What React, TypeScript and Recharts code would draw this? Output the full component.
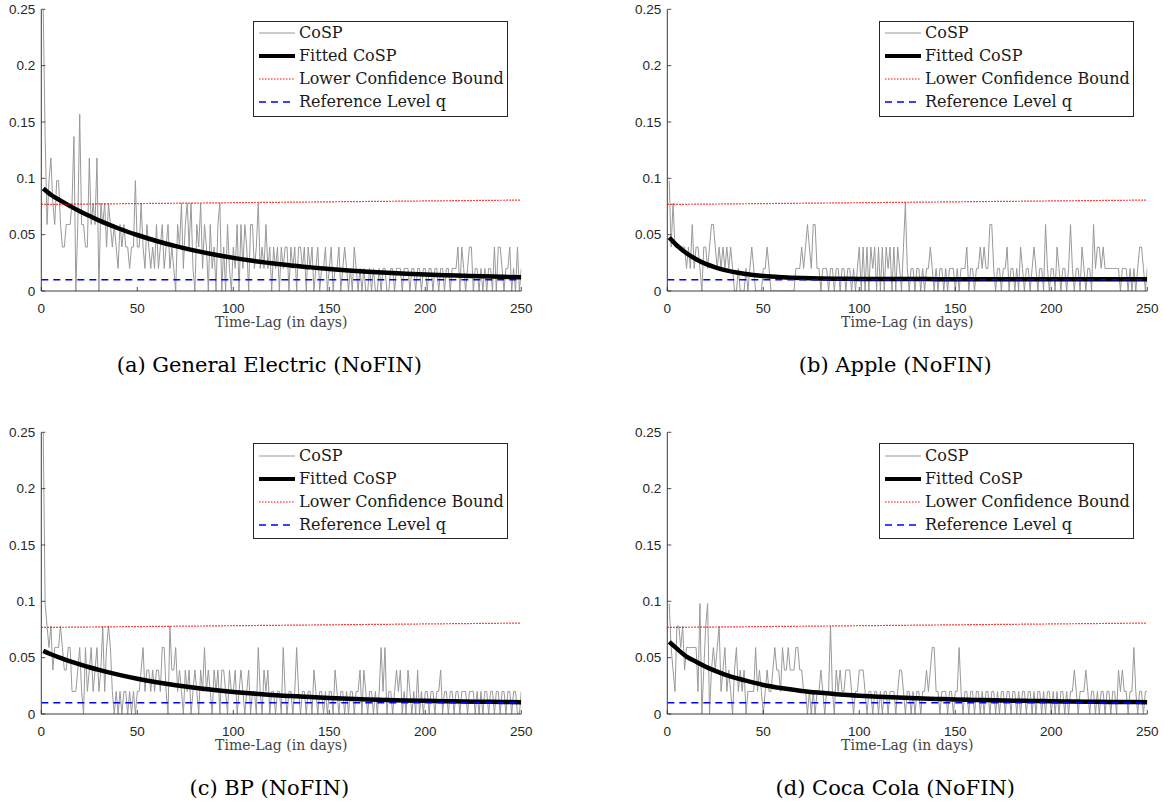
import { LineChart, Line, XAxis, YAxis, Legend } from 'recharts';

// lag in days for each CoSP value
const days = Array.from({ length: 250 }, (_, i) => i + 1);

const geCosp = [
  .25, .137, .059, .098, .118, .078, .059, .098, .098, .059,
  .039, .039, .059, .059, .059, .078, .137, 0, .059, .157,
  .059, .059, .039, .039, .118, .059, .078, .059, .118, 0,
  .078, .059, .078, .039, .078, .059, .039, .059, .039, .02,
  .059, .039, .059, .039, .039, .02, .039, .039, .098, .039,
  .039, .078, .039, .02, .059, .039, .02, .039, .02, .059,
  .02, .039, .059, .02, .039, .059, .02, .039, .02, 0,
  .059, .039, .078, .02, .059, .078, .039, .078, .02, 0,
  .059, .039, .078, .02, .059, .039, 0, .059, .02, .039,
  0, .059, .078, 0, .039, 0, .059, .02, 0, .039,
  .02, .059, 0, .059, .02, .059, .039, 0, .059, .059,
  .02, .039, .078, .02, .039, .02, .059, .02, .039, 0,
  .039, .02, .039, 0, .039, .02, .039, .039, 0, .039,
  .02, .039, 0, .039, .039, .02, .039, 0, .039, .02,
  .039, 0, .02, .039, 0, .02, .02, .039, 0, .02,
  .039, 0, .02, .02, .039, 0, .02, .039, .02, 0,
  .02, 0, .039, .02, 0, .02, 0, .02, 0, 0,
  .02, 0, .02, 0, 0, .02, 0, .02, .02, 0,
  0, .02, .02, 0, .02, .02, .02, 0, .02, .02,
  .02, 0, .02, .02, 0, .02, .02, 0, .02, .02,
  0, .02, .02, 0, .02, .02, 0, .02, .02, 0,
  .02, .02, 0, .02, .02, .02, .039, 0, .039, .02,
  0, .02, .039, .039, 0, .02, .02, 0, .02, 0,
  .02, 0, .02, .02, 0, .039, 0, .039, .039, .02,
  0, .02, .02, .039, 0, .02, 0, .039, 0, .02,
];

const appleCosp = [
  .098, .039, .078, .039, .039, .039, .039, .039, .039, .02,
  .039, .02, .059, .02, .039, .039, .02, 0, .039, .039,
  .02, .039, .059, .059, .039, .02, .039, .02, .039, .02,
  .039, .02, .039, .02, 0, 0, .02, 0, 0, 0,
  .02, 0, .02, .039, .02, 0, 0, 0, 0, .02,
  .02, .039, .02, 0, 0, 0, 0, 0, 0, 0,
  0, 0, 0, 0, 0, 0, .02, .02, .02, .039,
  .02, .039, .059, .039, .02, .059, .059, .02, .02, 0,
  .02, .02, .02, 0, .02, .02, 0, .02, .02, 0,
  .02, .02, 0, .02, .02, 0, .02, 0, .02, .039,
  0, .039, 0, .039, 0, .039, .02, .039, 0, .039,
  0, .039, 0, .039, .02, .039, 0, .039, 0, .039,
  .02, 0, .039, .078, .02, 0, .02, .02, 0, .02,
  .02, 0, .02, 0, .02, .02, .039, .02, 0, .02,
  0, .02, .02, 0, .02, 0, .02, .02, .02, 0,
  .02, 0, .02, .02, .02, .039, 0, .02, .02, 0,
  .02, .02, .039, .02, .039, .02, .02, .059, .059, .02,
  0, .02, .02, 0, .02, .02, .039, 0, .02, .02,
  0, .02, 0, .039, .02, 0, .02, .02, 0, .02,
  .039, .02, 0, .02, .02, 0, .059, .02, 0, .02,
  .02, 0, .039, .02, 0, .02, .02, 0, .02, .059,
  .02, 0, .02, .02, 0, .039, .02, 0, .02, .02,
  0, .059, .02, .039, .039, .02, .039, .02, .02, .02,
  .02, .02, .02, .02, .02, 0, .02, .02, .02, 0,
  .02, 0, .02, 0, .02, .039, .039, .02, 0, .02,
];

const bpCosp = [
  .25, .098, .078, .059, .078, .039, .059, .059, .059, .078,
  .059, .039, .039, .059, .059, .02, .02, .02, .039, .059,
  .02, 0, .059, .02, .039, .059, .02, .039, .059, .02,
  .039, .078, .02, .059, .078, .059, .02, 0, .02, 0,
  .02, 0, .02, .02, 0, .02, 0, .02, 0, .02,
  .02, .039, .059, .02, .039, .039, .02, .039, .02, .039,
  .039, .02, .059, .059, .02, 0, .078, .039, .039, .059,
  .02, .039, .02, 0, .039, .02, .039, 0, .02, .039,
  .02, 0, .039, .02, .059, .02, .039, .02, 0, .039,
  .02, .039, 0, .039, .039, .02, 0, .039, .02, .02,
  .039, 0, .02, .039, .02, 0, .02, .039, 0, .02,
  .02, 0, .059, .02, 0, .039, .02, .039, 0, .02,
  .02, 0, .02, .02, 0, .059, .02, 0, .02, .02,
  0, .02, .059, .02, 0, .02, .02, 0, .02, .02,
  0, .039, .02, 0, .02, .02, 0, .02, 0, .02,
  .02, 0, .039, .02, 0, .02, .02, 0, .02, 0,
  .02, .02, 0, .02, .02, .039, 0, .039, .02, 0,
  .02, .02, 0, .02, 0, .02, .059, .02, .059, 0,
  .02, .02, 0, .02, .039, .02, .039, 0, .02, 0,
  .039, .02, 0, .02, 0, .039, 0, .02, 0, .02,
  .02, 0, .02, .02, 0, .02, .02, .039, 0, .02,
  .02, 0, .02, .02, 0, .02, .02, 0, .02, .02,
  .02, 0, .02, .02, .02, 0, .02, 0, .02, 0,
  .02, .02, 0, .02, .02, 0, .02, .02, 0, .02,
  .02, 0, .02, .02, 0, .02, .02, 0, 0, .02,
];

const cokeCosp = [
  .098, .059, .039, .02, .078, .078, .059, .078, .039, .059,
  .059, .059, .059, .059, .059, .02, .098, 0, .039, .078,
  .098, 0, .039, .059, .039, .059, .078, .02, .039, .059,
  .02, .039, .02, 0, .039, .059, .02, .039, .02, .039,
  0, .02, .02, .02, .02, .059, .02, .039, .02, 0,
  .02, .039, .02, .02, .039, .059, .039, .039, .02, .059,
  .039, .039, .059, .039, .039, .039, .059, .059, .039, .039,
  .02, .02, 0, .02, 0, .02, 0, .02, .02, .039,
  .02, 0, .02, .02, .078, .02, 0, .039, .02, .039,
  .02, .02, .039, .039, .039, .02, 0, .02, .02, .039,
  .039, .039, .02, 0, .02, .02, 0, .02, .02, 0,
  .02, 0, .02, .02, 0, .02, .02, .02, 0, .02,
  .039, .039, .02, 0, .02, .02, 0, .02, 0, .02,
  .02, 0, .02, .02, .039, .02, .039, .059, .059, .02,
  .02, 0, .02, .02, .02, 0, .02, .02, 0, .02,
  .02, .059, .02, 0, .02, .02, 0, .02, .02, 0,
  .02, .02, 0, .02, 0, .02, .02, 0, .02, .02,
  0, .02, 0, .02, .02, 0, .02, .02, 0, .02,
  .02, 0, .02, 0, .02, .02, 0, .02, .02, 0,
  .02, 0, .02, .02, 0, .02, 0, .02, .02, 0,
  .02, 0, .02, 0, .02, .02, 0, .02, 0, .02,
  .02, .039, .02, 0, .02, .02, .02, .039, .02, 0,
  .02, .02, 0, .02, 0, .02, .02, 0, .02, .02,
  0, .02, .02, 0, .039, .02, .039, .02, .02, 0,
  .02, .02, .059, .02, 0, .02, .02, 0, .02, .02,
];

// fitted curve, read at these lags
const fitDays = [1, 5, 10, 15, 20, 25, 30, 40, 50, 60, 70, 80, 90, 100, 110, 120, 130, 140, 150, 160, 170, 180, 190, 200, 210, 220, 230, 240, 250];
const geFit = [.0909, .0854, .0802, .0754, .0708, .0667, .0627, .0557, .0497, .0444, .0398, .0358, .0324, .0294, .0268, .0246, .0226, .021, .0195, .0182, .0171, .0162, .0154, .0147, .014, .0135, .013, .0126, .0123];
const appleFit = [.0475, .0405, .0335, .0282, .0241, .021, .0185, .0153, .0133, .0122, .0115, .0111, .0109, .0107, .0106, .0106, .0106, .0105, .0105, .0105, .0105, .0105, .0105, .0105, .0105, .0105, .0105, .0105, .0105];
const bpFit = [.056, .053, .0498, .0468, .0441, .0415, .0391, .0349, .0313, .0282, .0255, .0232, .0213, .0196, .0182, .0169, .0159, .015, .0142, .0135, .0129, .0125, .012, .0117, .0114, .0111, .0109, .0107, .0105];
const cokeFit = [.064, .058, .051, .0464, .042, .0383, .035, .03, .0258, .0228, .0205, .0188, .0173, .0162, .0153, .0146, .0139, .0134, .0129, .0125, .0121, .0118, .0116, .0113, .0111, .0109, .0107, .0106, .0105];

const boundDays = [0, 250];
const lowerBound = [0.0768, 0.0807];
const refLevel = [0.01, 0.01];

const xTicks = [0, 50, 100, 150, 200, 250];
const yTicks = [0, 0.05, 0.1, 0.15, 0.2, 0.25];

const AXIS = '#262626';
const SANS = '"Liberation Sans", Arial, sans-serif';
const SERIF = '"DejaVu Serif", serif';

const rows = (xs: number[], vs: number[]) => xs.map((d, i) => ({ d, v: vs[i] }));

const legendItems = [
  { label: 'CoSP', stroke: '#999999', width: 1, dash: undefined as string | undefined },
  { label: 'Fitted CoSP', stroke: '#000000', width: 4, dash: undefined },
  { label: 'Lower Confidence Bound', stroke: '#ff0000', width: 1.2, dash: '1.5 1.5' },
  { label: 'Reference Level q', stroke: '#0000ff', width: 1.5, dash: '7 5' },
];

function LegendBox() {
  return (
    <div
      style={{
        boxSizing: 'border-box',
        position: 'relative',
        width: 255,
        height: 96,
        border: `1px solid ${AXIS}`,
        background: '#fff',
      }}
    >
      {legendItems.map((it, i) => (
        <div
          key={it.label}
          style={{ position: 'absolute', left: 0, top: 1.3 + 23 * i, height: 20, display: 'flex', alignItems: 'center' }}
        >
          <svg width={45} height={20} style={{ display: 'block' }}>
            <line x1={5} x2={41} y1={10} y2={10} stroke={it.stroke} strokeWidth={it.width} strokeDasharray={it.dash} />
          </svg>
          <span style={{ fontFamily: SERIF, fontSize: 16, lineHeight: '20px', color: '#1a1a1a', whiteSpace: 'nowrap' }}>
            {it.label}
          </span>
        </div>
      ))}
    </div>
  );
}

function YTick(props: any) {
  const { x, y, payload } = props;
  const ax = x + 6;
  return (
    <g>
      <line x1={ax} x2={ax + 4} y1={y} y2={y} stroke={AXIS} strokeWidth={0.8} />
      <text x={x} y={y} dy={4.7} textAnchor="end" fontFamily={SANS} fontSize={13.5} fill={AXIS}>
        {payload.value}
      </text>
    </g>
  );
}

function XTick(props: any) {
  const { x, y, payload } = props;
  return (
    <g>
      <line x1={x} x2={x} y1={y} y2={y - 4} stroke={AXIS} strokeWidth={0.8} />
      <text x={x} y={y + 21.7} textAnchor="middle" fontFamily={SANS} fontSize={13.5} fill={AXIS}>
        {payload.value}
      </text>
    </g>
  );
}

interface PanelProps {
  left: number;
  top: number;
  cosp: number[];
  fit: number[];
  caption: string;
}

function Panel({ left, top, cosp, fit, caption }: PanelProps) {
  return (
    <>
      <div style={{ position: 'absolute', left, top }}>
        <LineChart width={535} height={340} margin={{ top: 9.3, right: 13.7, bottom: 0, left: 0 }}>
          <XAxis
            type="number"
            dataKey="d"
            domain={[0, 250]}
            ticks={xTicks}
            interval={0}
            allowDataOverflow
            height={49}
            tickSize={0}
            tickMargin={0}
            tick={<XTick />}
            axisLine={{ stroke: AXIS, strokeWidth: 0.9 }}
            label={{
              value: 'Time-Lag (in days)',
              position: 'insideBottom',
              offset: 13,
              fill: '#444',
              fontSize: 14,
              fontFamily: SERIF,
            }}
          />
          <YAxis
            type="number"
            domain={[0, 0.25]}
            ticks={yTicks}
            interval={0}
            allowDataOverflow
            width={41.3}
            tickSize={0}
            tickMargin={6}
            tick={<YTick />}
            axisLine={{ stroke: AXIS, strokeWidth: 0.9 }}
          />
          <Line data={rows(days, cosp)} dataKey="v" type="linear" stroke="#999999" strokeWidth={1} dot={false} isAnimationActive={false} />
          <Line data={rows(fitDays, fit)} dataKey="v" type="monotone" stroke="#000000" strokeWidth={4.5} dot={false} isAnimationActive={false} />
          <Line data={rows(boundDays, lowerBound)} dataKey="v" type="linear" stroke="#ff0000" strokeWidth={1.2} strokeDasharray="1.5 1.5" dot={false} isAnimationActive={false} />
          <Line data={rows(boundDays, refLevel)} dataKey="v" type="linear" stroke="#0000ff" strokeWidth={1.5} strokeDasharray="7 5" dot={false} isAnimationActive={false} />
          <Legend
            layout="vertical"
            align="center"
            verticalAlign="middle"
            wrapperStyle={{ left: 253, top: 20.7, width: 255, height: 96 }}
            content={() => <LegendBox />}
          />
        </LineChart>
      </div>
      <div
        style={{
          position: 'absolute',
          left: left + 269.3 - 250,
          top: top + 353,
          width: 500,
          textAlign: 'center',
          fontFamily: SERIF,
          fontSize: 21,
          lineHeight: '24px',
          color: '#000',
        }}
      >
        {caption}
      </div>
    </>
  );
}

export default function App() {
  return (
    <div style={{ position: 'relative', width: 1165, height: 806, overflow: 'hidden', background: '#fff' }}>
      <style>{'body{margin:0}'}</style>
      <Panel left={0} top={0} cosp={geCosp} fit={geFit} caption="(a) General Electric (NoFIN)" />
      <Panel left={626} top={0} cosp={appleCosp} fit={appleFit} caption="(b) Apple (NoFIN)" />
      <Panel left={0} top={422.7} cosp={bpCosp} fit={bpFit} caption="(c) BP (NoFIN)" />
      <Panel left={626} top={422.7} cosp={cokeCosp} fit={cokeFit} caption="(d) Coca Cola (NoFIN)" />
    </div>
  );
}
